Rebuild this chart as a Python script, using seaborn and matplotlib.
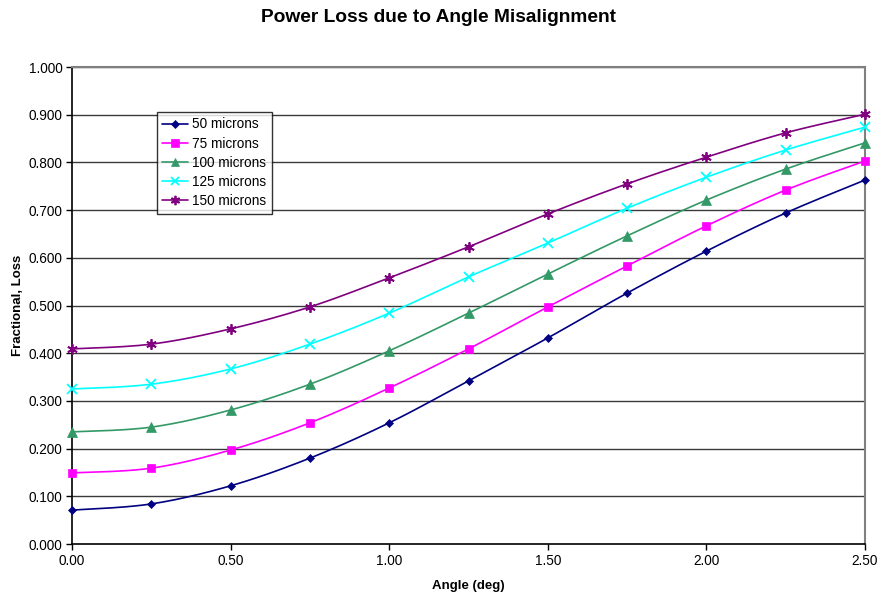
import numpy as np
import pandas as pd
import matplotlib
matplotlib.use("Agg")
import matplotlib.pyplot as plt
from matplotlib.lines import Line2D
import seaborn as sns

angles = [0.0, 0.25, 0.5, 0.75, 1.0, 1.25, 1.5, 1.75, 2.0, 2.25, 2.5]
loss_50 = [0.071, 0.084, 0.122, 0.180, 0.254, 0.342, 0.432, 0.526, 0.614, 0.694, 0.763]
loss_75 = [0.149, 0.159, 0.197, 0.254, 0.327, 0.409, 0.497, 0.583, 0.667, 0.742, 0.803]
loss_100 = [0.235, 0.245, 0.281, 0.335, 0.405, 0.484, 0.566, 0.646, 0.721, 0.786, 0.841]
loss_125 = [0.325, 0.335, 0.367, 0.419, 0.484, 0.560, 0.631, 0.704, 0.769, 0.826, 0.874]
loss_150 = [0.409, 0.419, 0.451, 0.497, 0.558, 0.623, 0.692, 0.755, 0.811, 0.862, 0.901]
series_names = ["50 microns", "75 microns", "100 microns", "125 microns", "150 microns"]
series_values = [loss_50, loss_75, loss_100, loss_125, loss_150]
colors = ["#000080", "#FF00FF", "#339966", "#00FFFF", "#800080"]
markers = ["D", "s", "^", "x", (6, 2, 0)]
msizes = [4.5, 6, 6.5, 7, 7.5]
ytick_vals = [0.0, 0.1, 0.2, 0.3, 0.4, 0.5, 0.6, 0.7, 0.8, 0.9, 1.0]
xtick_vals = [0.0, 0.5, 1.0, 1.5, 2.0, 2.5]


def smooth(x, y, n=20):
    # Catmull-Rom style (Excel-like) smoothing through the data points
    x = np.asarray(x, float); y = np.asarray(y, float)
    px = np.concatenate([[x[0]], x, [x[-1]]])
    py = np.concatenate([[y[0]], y, [y[-1]]])
    xs, ys = [], []
    t = np.linspace(0, 1, n, endpoint=False)
    for i in range(1, len(px) - 2):
        p0x, p1x, p2x, p3x = px[i - 1], px[i], px[i + 1], px[i + 2]
        p0y, p1y, p2y, p3y = py[i - 1], py[i], py[i + 1], py[i + 2]
        c1x = p1x + (p2x - p0x) / 6; c1y = p1y + (p2y - p0y) / 6
        c2x = p2x - (p3x - p1x) / 6; c2y = p2y - (p3y - p1y) / 6
        bx = (1 - t) ** 3 * p1x + 3 * (1 - t) ** 2 * t * c1x + 3 * (1 - t) * t ** 2 * c2x + t ** 3 * p2x
        by = (1 - t) ** 3 * p1y + 3 * (1 - t) ** 2 * t * c1y + 3 * (1 - t) * t ** 2 * c2y + t ** 3 * p2y
        xs.extend(bx); ys.extend(by)
    xs.append(x[-1]); ys.append(y[-1])
    return np.array(xs), np.array(ys)


sns.set_theme(style="white")
plt.rcParams["font.family"] = ["Liberation Sans", "DejaVu Sans"]
plt.rcParams.update({"text.color": "black", "axes.labelcolor": "black",
                     "xtick.color": "black", "ytick.color": "black"})

fig = plt.figure(figsize=(8.78, 5.94), dpi=100)
ax = fig.add_axes([72 / 878, 1 - 544 / 594, 793 / 878, 477 / 594])

for yv in ytick_vals[1:]:
    ax.axhline(yv, color="#3a3a3a", lw=1.0, zorder=1)

handles = []
for name, vals, c, m, ms in zip(series_names, series_values, colors, markers, msizes):
    sx, sy = smooth(angles, vals)
    dfl = pd.DataFrame({"x": sx, "y": sy})
    sns.lineplot(data=dfl, x="x", y="y", color=c, lw=1.2, ax=ax, sort=False,
                 estimator=None, zorder=3)
    dfp = pd.DataFrame({"x": angles, "y": vals})
    ax.plot(dfp["x"], dfp["y"], linestyle="none", marker=m, color=c, ms=ms,
            mew=1.3 if m in ("x", (6, 2, 0)) else 0.5, zorder=4, clip_on=False)
    handles.append(Line2D([0], [0], color=c, lw=1.2, marker=m, ms=ms * 0.9,
                          mew=1.3 if m in ("x", (6, 2, 0)) else 0.5))

ax.set_xlim(0, 2.5)
ax.set_ylim(0, 1.0)
ax.set_xticks(xtick_vals)
ax.set_xticklabels([f"{v:.2f}" for v in xtick_vals], fontsize=9.8)
ax.set_yticks(ytick_vals)
ax.set_yticklabels([f"{v:.3f}" for v in ytick_vals], fontsize=9.8)
ax.tick_params(axis="both", direction="out", length=4, width=1, color="black",
               labelcolor="black", bottom=True, left=True, pad=3)
for s in ["left", "bottom"]:
    ax.spines[s].set_color("black")
    ax.spines[s].set_linewidth(1.2)
for s in ["top", "right"]:
    ax.spines[s].set_color("#808080")
    ax.spines[s].set_linewidth(1.5)
ax.set_xlabel("Angle (deg)", fontsize=9.5, fontweight="bold", labelpad=9, color="black")
ax.set_ylabel("Fractional, Loss", fontsize=9.5, fontweight="bold", labelpad=3, color="black")
fig.text(0.5, 1 - 18 / 594, "Power Loss due to Angle Misalignment", ha="center",
         va="center", fontsize=13.8, fontweight="bold", color="black")

leg = ax.legend(handles, series_names, loc="upper left",
                bbox_to_anchor=((157 - 72) / 793, (544 - 112) / 477),
                fontsize=9.8, frameon=True, fancybox=False, handlelength=1.9,
                handletextpad=0.3, borderpad=0.4, labelspacing=0.38,
                borderaxespad=0)
leg.get_frame().set_edgecolor("black")
leg.get_frame().set_linewidth(1.0)
for t in leg.get_texts():
    t.set_color("black")
leg.set_zorder(6)

fig.savefig("out.png", dpi=100)
